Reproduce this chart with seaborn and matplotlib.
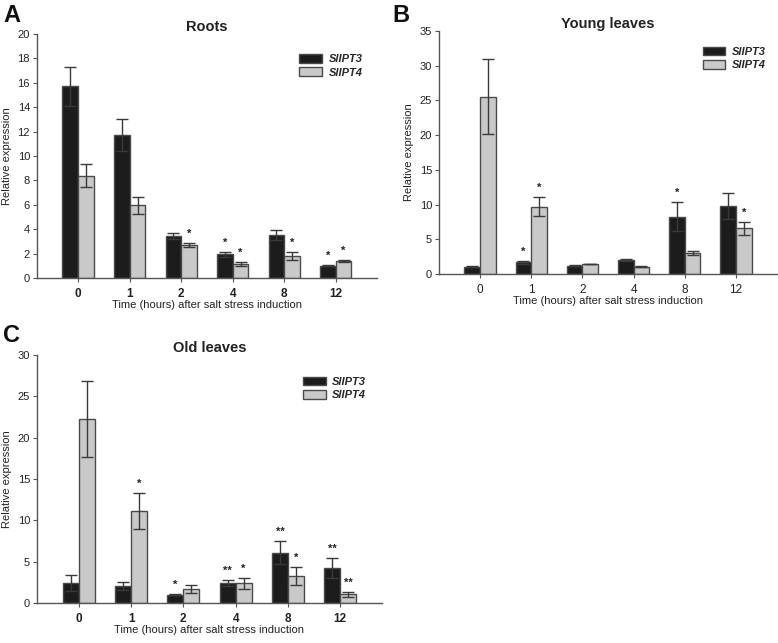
import matplotlib
matplotlib.use("Agg")
import matplotlib.pyplot as plt
import seaborn as sns
import pandas as pd
import numpy as np

# ---------------- data ----------------
times = ["0", "1", "2", "4", "8", "12"]
genes = ["SlIPT3", "SlIPT4"]

roots_ipt3 = [15.7, 11.7, 3.47, 1.94, 3.5, 1.01]
roots_ipt3_err = [1.6, 1.3, 0.25, 0.2, 0.4, 0.05]
roots_ipt4 = [8.4, 5.95, 2.7, 1.15, 1.8, 1.4]
roots_ipt4_err = [0.95, 0.7, 0.2, 0.15, 0.33, 0.05]
roots_stars3 = ["", "", "", "*", "", "*"]
roots_stars4 = ["", "", "*", "*", "*", "*"]

young_ipt3 = [1.06, 1.7, 1.2, 2.06, 8.25, 9.75]
young_ipt3_err = [0.05, 0.2, 0.07, 0.15, 2.1, 1.9]
young_ipt4 = [25.5, 9.7, 1.44, 1.06, 3.02, 6.6]
young_ipt4_err = [5.4, 1.4, 0.07, 0.1, 0.33, 0.95]
young_stars3 = ["", "*", "", "", "*", ""]
young_stars4 = ["", "*", "", "", "", "*"]

old_ipt3 = [2.46, 2.06, 1.0, 2.46, 6.09, 4.23]
old_ipt3_err = [0.97, 0.45, 0.07, 0.35, 1.35, 1.25]
old_ipt4 = [22.3, 11.1, 1.65, 2.36, 3.22, 1.05]
old_ipt4_err = [4.6, 2.2, 0.5, 0.7, 1.1, 0.3]
old_stars3 = ["", "", "*", "**", "**", "**"]
old_stars4 = ["", "*", "", "*", "*", "**"]

# ---------------- style ----------------
sns.set_theme(style="white")
plt.rcParams["font.family"] = ["Liberation Sans", "DejaVu Sans"]

fig = plt.figure(figsize=(7.78, 6.43), dpi=100)
W, H = 778, 643

def ax_at(x0, y0, x1, y1):
    return fig.add_axes([x0 / W, 1 - y1 / H, (x1 - x0) / W, (y1 - y0) / H])

panels = [
    dict(box=(37, 34, 377, 278), letter="A", lpos=(3, 16), title="Roots",
         v3=roots_ipt3, e3=roots_ipt3_err, v4=roots_ipt4, e4=roots_ipt4_err,
         s3=roots_stars3, s4=roots_stars4, ymax=20, ystep=2, boldx=True,
         leg=(0.772, 0.918)),
    dict(box=(439, 31, 777, 274), letter="B", lpos=(392, 16), title="Young leaves",
         v3=young_ipt3, e3=young_ipt3_err, v4=young_ipt4, e4=young_ipt4_err,
         s3=young_stars3, s4=young_stars4, ymax=35, ystep=5, boldx=False,
         leg=(0.78, 0.935)),
    dict(box=(37, 355, 382, 603), letter="C", lpos=(3, 336), title="Old leaves",
         v3=old_ipt3, e3=old_ipt3_err, v4=old_ipt4, e4=old_ipt4_err,
         s3=old_stars3, s4=old_stars4, ymax=30, ystep=5, boldx=True,
         leg=(0.772, 0.912)),
]

palette = {"SlIPT3": "#1c1c1c", "SlIPT4": "#c9c9c9"}
axis_col = "#555555"

for p in panels:
    ax = ax_at(*p["box"])
    df = pd.DataFrame({
        "time": times * 2,
        "gene": [genes[0]] * len(times) + [genes[1]] * len(times),
        "value": p["v3"] + p["v4"],
    })
    sns.barplot(data=df, x="time", y="value", hue="gene", order=times,
                hue_order=genes, palette=palette, width=0.61, errorbar=None,
                edgecolor="#4a4a4a", linewidth=1.0, saturation=1, ax=ax)
    errs = [p["e3"], p["e4"]]
    vals = [p["v3"], p["v4"]]
    stars = [p["s3"], p["s4"]]
    for ci, cont in enumerate(ax.containers[:2]):
        xs = [b.get_x() + b.get_width() / 2 for b in cont.patches]
        ax.errorbar(xs, vals[ci], yerr=errs[ci], fmt="none", ecolor="#3a3a3a",
                    elinewidth=1.0, capsize=4, capthick=1.0, zorder=5)
        for x, v, e, s in zip(xs, vals[ci], errs[ci], stars[ci]):
            if s:
                ax.annotate(s, (x, v + e), xytext=(0, 3), textcoords="offset points",
                            ha="center", va="bottom", fontsize=8, fontweight="bold",
                            color="#222222")
    ax.set_xlim(-0.8, 5.8)
    ax.set_ylim(0, p["ymax"])
    ax.set_yticks(np.arange(0, p["ymax"] + 0.1, p["ystep"]))
    sns.despine(ax=ax)
    for sp in ("left", "bottom"):
        ax.spines[sp].set_color(axis_col)
        ax.spines[sp].set_linewidth(1.0)
    ax.tick_params(axis="y", which="both", left=True, length=3, width=0.8,
                   color=axis_col, labelsize=8, pad=2, labelcolor="#222222")
    ax.tick_params(axis="x", which="both", bottom=True, length=3, width=0.8,
                   color=axis_col, labelsize=8.5, pad=4, labelcolor="#222222")
    if p["boldx"]:
        for t in ax.get_xticklabels():
            t.set_fontweight("bold")
    ax.set_xlabel("Time (hours) after salt stress induction", fontsize=8,
                  color="#222222", labelpad=0)
    ax.set_ylabel("Relative expression", fontsize=8, color="#222222", labelpad=4)
    ax.set_title(p["title"], fontsize=10.5, fontweight="bold", pad=0.5, color="#222222")
    leg = ax.legend(loc="upper left", bbox_to_anchor=p["leg"], frameon=False,
                    fontsize=8, handlelength=2.0, handleheight=0.8,
                    handletextpad=0.6, labelspacing=0.3, borderaxespad=0,
                    borderpad=0)
    for t in leg.get_texts():
        t.set_fontstyle("italic")
        t.set_fontweight("bold")
    fig.text(p["lpos"][0] / W, 1 - p["lpos"][1] / H, p["letter"], fontsize=17,
             fontweight="bold", ha="left", va="center", color="#111111")

fig.savefig("out.png", dpi=100)
